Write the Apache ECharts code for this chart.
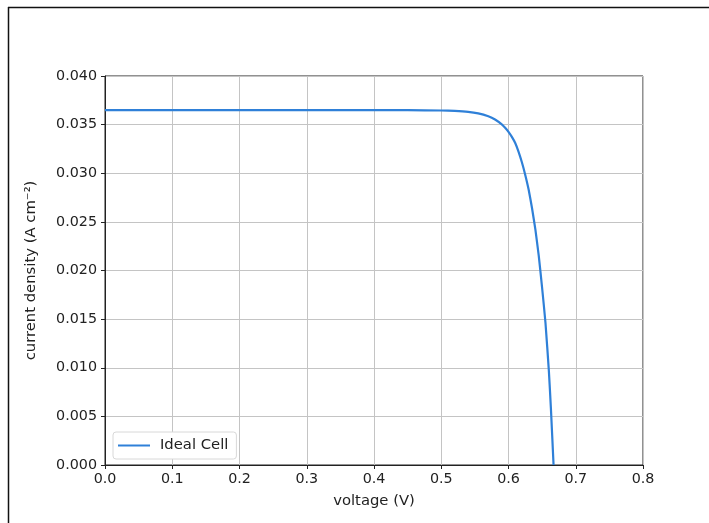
<!DOCTYPE html>
<html>
<head>
<meta charset="utf-8">
<script src="https://cdn.jsdelivr.net/npm/echarts@6/dist/echarts.min.js"></script>
<style>
  html, body { margin: 0; padding: 0; background: #fff; }
  #chart { width: 709px; height: 523px; }
</style>
</head>
<body>
<div id="chart"></div>
<script>
// 读图得到的数据
var voltage = [0, 0.1, 0.2, 0.3, 0.4, 0.45, 0.5, 0.52, 0.54, 0.555, 0.57, 0.58, 0.59, 0.595, 0.6, 0.605, 0.61, 0.615, 0.62, 0.625, 0.63, 0.635, 0.64, 0.645, 0.65, 0.655, 0.66, 0.663, 0.667];
var current = [0.0365, 0.0365, 0.0365, 0.0365, 0.0365, 0.03649, 0.03645, 0.03641, 0.03632, 0.03616, 0.03586, 0.03553, 0.03503, 0.03468, 0.03426, 0.03374, 0.03311, 0.0322, 0.0311, 0.0298, 0.0283, 0.0264, 0.0242, 0.0215, 0.0182, 0.0146, 0.0097, 0.0059, 0.0];
var xTicks = ['0.0', '0.1', '0.2', '0.3', '0.4', '0.5', '0.6', '0.7', '0.8'];
var yTicks = ['0.000', '0.005', '0.010', '0.015', '0.020', '0.025', '0.030', '0.035', '0.040'];

var points = [];
for (let i = 0; i < voltage.length; i++) {
  points.push([voltage[i], current[i]])
}

var font = 'DejaVu Sans';
const chart = echarts.init(document.getElementById('chart'));
chart.setOption({
  animation: false,
  backgroundColor: '#fff',
  graphic: [
    { type: 'line', shape: { x1: 8, y1: 7.5, x2: 709, y2: 7.5 }, style: { stroke: '#111', lineWidth: 1.5 } },
    { type: 'line', shape: { x1: 8.5, y1: 7, x2: 8.5, y2: 523 }, style: { stroke: '#111', lineWidth: 1.5 } }
  ],
  grid: {
    left: 105, right: 66, top: 76, bottom: 58,
    show: true, borderColor: '#222', borderWidth: 1
  },
  legend: {
    left: 113, top: 432,
    padding: [6, 8, 6, 5],
    borderColor: '#d8d8d8', borderWidth: 1, borderRadius: 3,
    backgroundColor: '#fff',
    icon: 'rect',
    itemWidth: 32, itemHeight: 2,
    textStyle: { fontFamily: font, fontSize: 14.8, color: '#222', padding: [0, 0, 0, 5] },
    data: ['Ideal Cell']
  },
  xAxis: {
    type: 'value', min: 0, max: 0.8, interval: 0.1,
    name: 'voltage (V)', nameLocation: 'middle', nameGap: 29,
    nameTextStyle: { fontFamily: font, fontSize: 14.8, color: '#222' },
    axisLine: { show: true, lineStyle: { color: '#222' } },
    axisTick: { show: true, length: 4, lineStyle: { color: '#222' } },
    axisLabel: {
      fontFamily: font, fontSize: 14.3, color: '#222', margin: 7,
      formatter: function (v) { return xTicks[Math.round(v * 10)] }
    },
    splitLine: { show: true, lineStyle: { color: '#c4c4c4', width: 1 } }
  },
  yAxis: {
    type: 'value', min: 0, max: 0.04, interval: 0.005,
    name: 'current density (A cm⁻²)', nameLocation: 'middle', nameGap: 66,
    nameTextStyle: { fontFamily: font, fontSize: 14.8, color: '#222' },
    axisLine: { show: true, lineStyle: { color: '#222' } },
    axisTick: { show: true, length: 4, lineStyle: { color: '#222' } },
    axisLabel: {
      fontFamily: font, fontSize: 14.3, color: '#222', margin: 8,
      formatter: function (v) { return yTicks[Math.round(v / 0.005)] }
    },
    splitLine: { show: true, lineStyle: { color: '#c4c4c4', width: 1 } }
  },
  series: [
    {
      name: 'Ideal Cell',
      type: 'line',
      data: points,
      symbol: 'none',
      smooth: 0.15,
      lineStyle: { color: '#2f80d8', width: 2.2 },
      itemStyle: { color: '#2f80d8' }
    }
  ]
})
</script>
</body>
</html>
